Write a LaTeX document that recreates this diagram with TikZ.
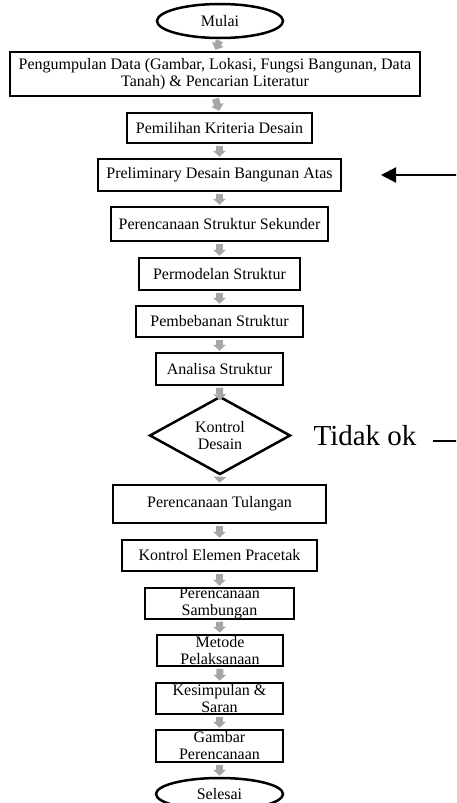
\documentclass[tikz,border=0pt]{standalone}
\usepackage{fontspec}
\setmainfont{Liberation Serif}
\usetikzlibrary{shapes.geometric,arrows.meta}
\definecolor{arrowgray}{HTML}{A6A6A6}
\begin{document}
\begin{tikzpicture}[x=1pt,y=-1pt,
  box/.style={draw, line width=2.5pt, fill=white, inner sep=0pt, align=center,
    font=\fontsize{16}{17}\selectfont},
  term/.style={box, ellipse},
  dec/.style={box, diamond},
  flow/.style={draw=arrowgray, line width=7pt, shorten <=1.5pt, shorten >=1pt,
    -{Triangle[width=12.5pt,length=6pt]}},
  back/.style={draw=black, line width=2pt, -{Triangle[width=15pt,length=15pt]}},
]
\useasboundingbox (0,0) rectangle (456,803);
\clip (0,0) rectangle (456,803);

\node[term, minimum width=126pt, minimum height=34pt] (mulai) at (220,21) {Mulai};
\node[box, minimum width=410pt, minimum height=44pt] (data) at (215,74)
  {Pengumpulan Data (Gambar, Lokasi, Fungsi Bangunan, Data\\Tanah) \& Pencarian Literatur};
\node[box, minimum width=185pt, minimum height=30pt] (kriteria) at (219.5,128) {Pemilihan Kriteria Desain};
\node[box, minimum width=243pt, minimum height=32pt] (prelim) at (219.5,175) {Preliminary Desain Bangunan Atas};
\node[box, minimum width=217pt, minimum height=34pt] (sekunder) at (219.5,224) {Perencanaan Struktur Sekunder};
\node[box, minimum width=161pt, minimum height=32pt] (model) at (219.5,274) {Permodelan Struktur};
\node[box, minimum width=167pt, minimum height=31pt] (beban) at (219.5,321.5) {Pembebanan Struktur};
\node[box, minimum width=127pt, minimum height=32pt] (analisa) at (219.5,369) {Analisa Struktur};
\node[dec, minimum width=141pt, minimum height=65pt] (kontrol) at (220,435.5) {Kontrol\\Desain};
\node[box, minimum width=213pt, minimum height=38pt] (tulangan) at (219.5,504) {Perencanaan Tulangan};
\node[box, minimum width=195pt, minimum height=31pt] (elemen) at (219.5,555.5) {Kontrol Elemen Pracetak};
\node[box, minimum width=149pt, minimum height=31pt] (sambung) at (219.5,603.5) {Perencanaan\\Sambungan};
\node[box, minimum width=126pt, minimum height=31pt] (metode) at (220,650.5) {Metode\\Pelaksanaan};
\node[box, minimum width=127pt, minimum height=31pt] (simpul) at (219.5,698.5) {Kesimpulan \&\\Saran};
\node[box, minimum width=127pt, minimum height=32pt] (gambar) at (219.5,746) {Gambar\\Perencanaan};
\node[term, minimum width=127pt, minimum height=32pt] (selesai) at (219.5,794) {Selesai};

\node[font=\fontsize{29}{32}\selectfont, inner sep=0pt] (tidak) at (365,436) {Tidak ok};

\draw[flow] (mulai.south) -- (data.north);
\draw[flow] (data.south) -- (kriteria.north);
\draw[flow] (kriteria.south) -- (prelim.north);
\draw[flow] (prelim.south) -- (sekunder.north);
\draw[flow] (sekunder.south) -- (model.north);
\draw[flow] (model.south) -- (beban.north);
\draw[flow] (beban.south) -- (analisa.north);
\draw[flow] (analisa.south) -- ([yshift=-6pt]kontrol.north);
\draw[flow] (kontrol.south) -- (tulangan.north);
\draw[flow] (tulangan.south) -- (elemen.north);
\draw[flow] (elemen.south) -- (sambung.north);
\draw[flow] (sambung.south) -- (metode.north);
\draw[flow] (metode.south) -- (simpul.north);
\draw[flow] (simpul.south) -- (gambar.north);
\draw[flow] (gambar.south) -- (selesai.north);

\coordinate (loopA) at (433,441);
\coordinate (loopB) at (460,441);
\coordinate (loopC) at (460,175);
\coordinate (loopD) at (381,175);
\draw[line width=2pt] (loopA) -- (loopB);
\draw[back] (loopC) -- (loopD);
\end{tikzpicture}
\end{document}
